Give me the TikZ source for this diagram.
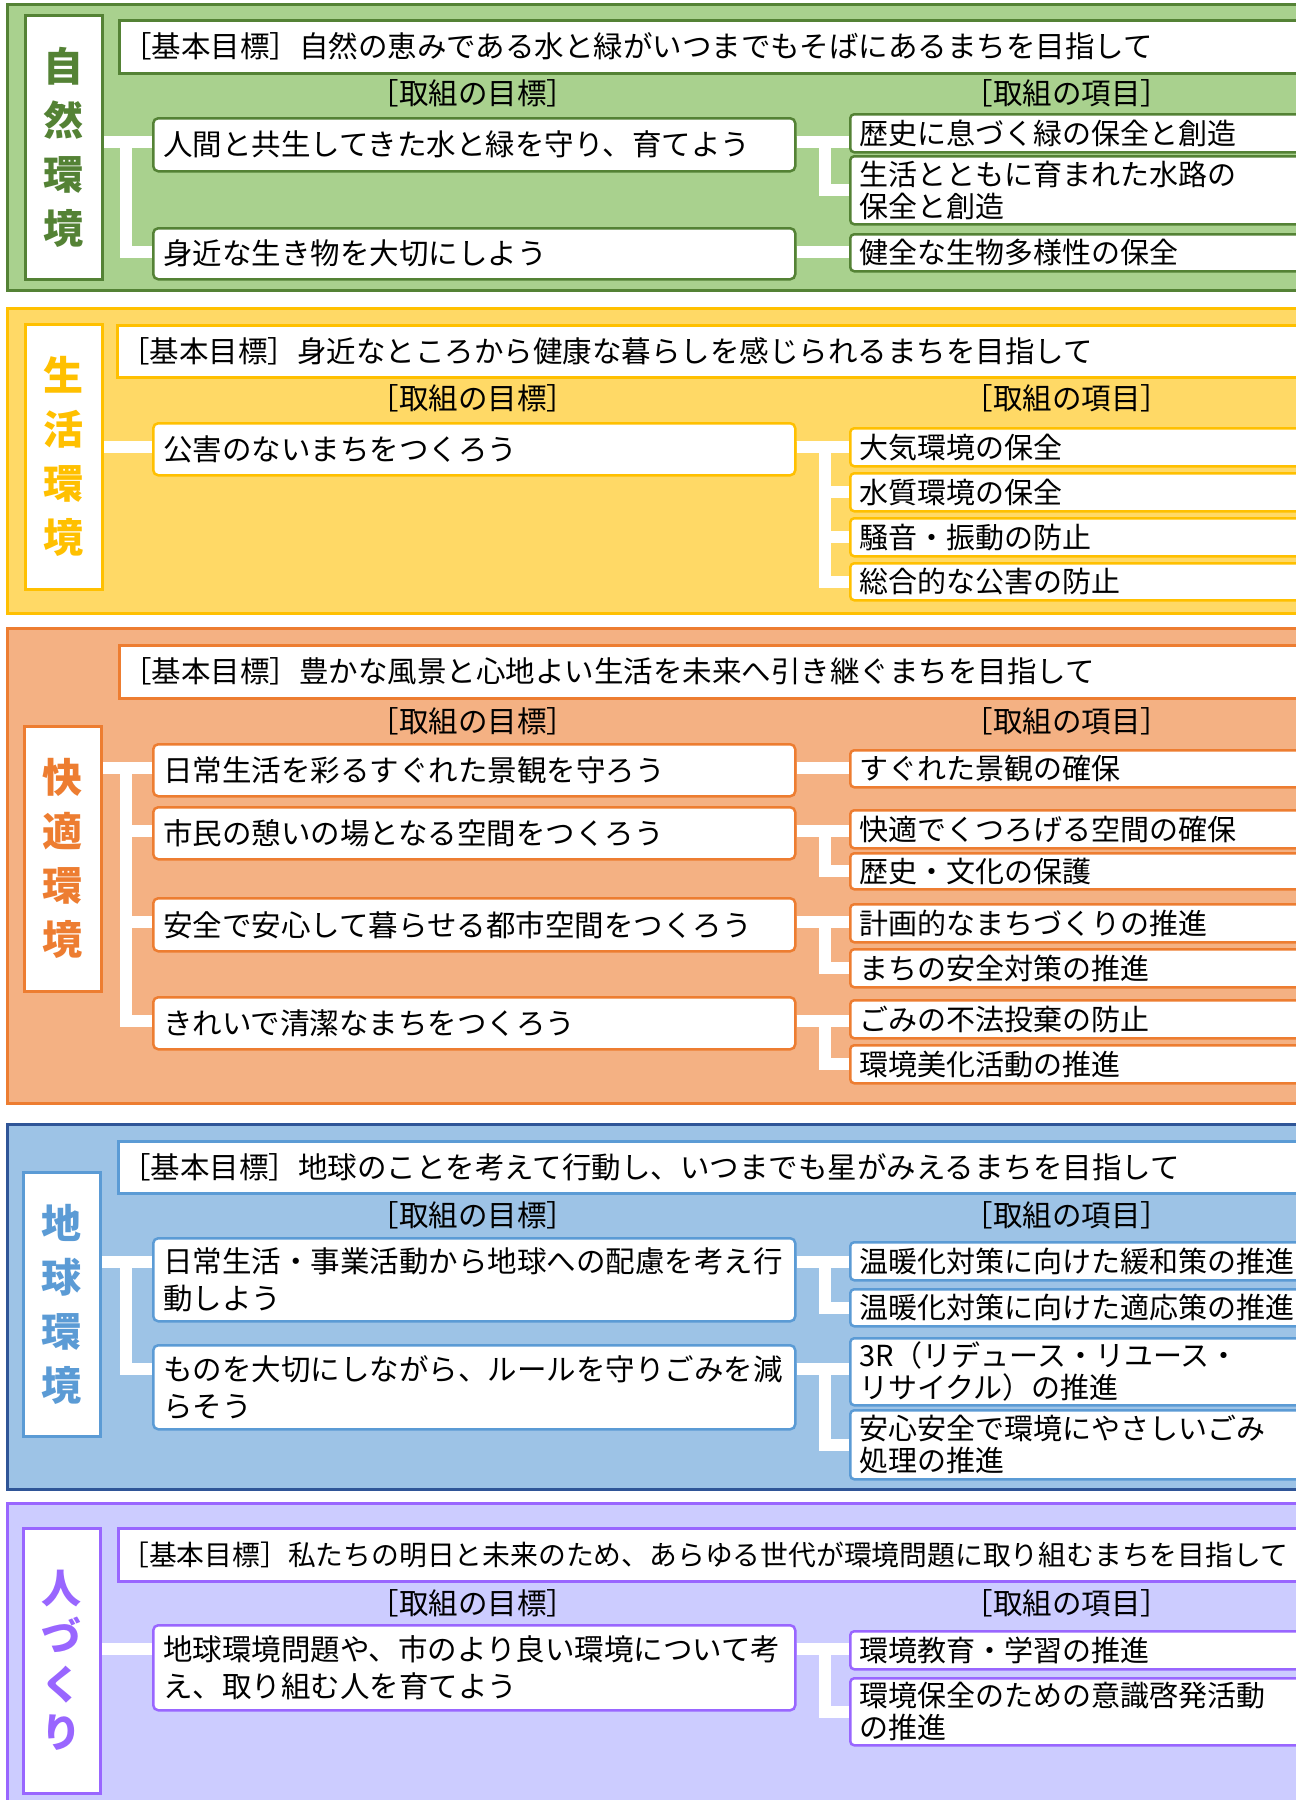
\documentclass[tikz,border=0pt]{standalone}
\usepackage{fontspec}
\setmainfont{Noto Sans CJK JP}
\IfFontExistsTF{Noto Sans CJK JP Black}{\newfontfamily\heavyfont{Noto Sans CJK JP Black}}{\newcommand{\heavyfont}{\bfseries}}
\usepackage{tikz}
\definecolor{natfill}{HTML}{A9D18E}
\definecolor{natline}{HTML}{548235}
\definecolor{lifefill}{HTML}{FFD966}
\definecolor{lifeline}{HTML}{FFC000}
\definecolor{amenfill}{HTML}{F4B183}
\definecolor{amenline}{HTML}{ED7D31}
\definecolor{globfill}{HTML}{9DC3E6}
\definecolor{globline}{HTML}{2F5597}
\definecolor{globbox}{HTML}{5B9BD5}
\definecolor{pplfill}{HTML}{CCCCFF}
\definecolor{pplline}{HTML}{9966FF}
\newcommand{\bodysize}{\fontsize{29.5}{37}\selectfont}
\newcommand{\itemsize}{\fontsize{29}{32}\selectfont}
\newcommand{\labfont}{\heavyfont\fontsize{40}{54}\selectfont}
\tikzstyle{sectionbox}=[line width=3pt]
\tikzstyle{labelbox}=[draw, fill=white, line width=2.5pt, anchor=north west, inner sep=0pt, minimum width=77pt, align=center]
\tikzstyle{basebox}=[draw, fill=white, line width=2.5pt, anchor=north west, inner xsep=3pt, inner ysep=0pt, text width=1186pt, minimum height=53pt, align=left, font=\bodysize]
\tikzstyle{goalbox}=[draw, fill=white, rounded corners=5pt, line width=2.5pt, anchor=north west, inner xsep=10pt, inner ysep=0pt, text width=622pt, align=left, font=\bodysize]
\tikzstyle{itembox}=[draw, fill=white, rounded corners=4pt, line width=2.5pt, anchor=north west, inner xsep=9pt, inner ysep=0pt, text width=443pt, align=left, font=\itemsize]
\tikzstyle{head}=[font=\fontsize{29.5}{29.5}\selectfont, inner sep=0pt]
\tikzstyle{link}=[draw=white, line width=12pt]
\begin{document}
\begin{tikzpicture}[x=1pt, y=-1pt]

  \useasboundingbox (0,0) rectangle (1296,1800);
  \clip (0,0) rectangle (1296,1800);
  \fill[white] (0,0) rectangle (1296,1800);

  % 自然環境
  \draw[sectionbox, draw=natline, fill=natfill] (7,4) rectangle (1310,290);
  \node[labelbox, draw=natline, text=natline, minimum height=264pt, font=\labfont] (lab1) at (24,14) {自\\然\\環\\境};
  \node[basebox, draw=natline] (base1) at (118,19) {［基本目標］自然の恵みである水と緑がいつまでもそばにあるまちを目指して};
  \node[head] (aim1) at (473,93) {［取組の目標］};
  \node[head] (act1) at (1067,93) {［取組の項目］};
  \foreach \y/\h/\name/\txt in {117/53/g11/{人間と共生してきた水と緑を守り、育てよう}, 227/51/g12/{身近な生き物を大切にしよう}}
    \node[goalbox, draw=natline, minimum height=\h pt] (\name) at (152,\y) {\txt};
  \foreach \y/\h/\name/\txt in {113/38/i11/{歴史に息づく緑の保全と創造}, 155/68/i12/{生活とともに育まれた水路の\\保全と創造}, 233/37/i13/{健全な生物多様性の保全}}
    \node[itembox, draw=natline, minimum height=\h pt] (\name) at (849,\y) {\txt};

  % 生活環境
  \draw[sectionbox, draw=lifeline, fill=lifefill] (7,308) rectangle (1310,613);
  \node[labelbox, draw=lifeline, text=lifeline, minimum height=265pt, font=\labfont] (lab2) at (24,323) {生\\活\\環\\境};
  \node[basebox, draw=lifeline, minimum height=52pt] (base2) at (116,324) {［基本目標］身近なところから健康な暮らしを感じられるまちを目指して};
  \node[head] (aim2) at (473,398) {［取組の目標］};
  \node[head] (act2) at (1067,398) {［取組の項目］};
  \node[goalbox, draw=lifeline, minimum height=52pt] (g21) at (152,422) {公害のないまちをつくろう};
  \foreach \y/\h/\name/\txt in {427/38/i21/{大気環境の保全}, 472/38/i22/{水質環境の保全}, 517/38/i23/{騒音・振動の防止}, 562/37/i24/{総合的な公害の防止}}
    \node[itembox, draw=lifeline, minimum height=\h pt] (\name) at (849,\y) {\txt};

  % 快適環境
  \draw[sectionbox, draw=amenline, fill=amenfill] (7,628) rectangle (1310,1103);
  \node[labelbox, draw=amenline, text=amenline, minimum height=265pt, font=\labfont] (lab3) at (23,725) {快\\適\\環\\境};
  \node[basebox, draw=amenline] (base3) at (118,644) {［基本目標］豊かな風景と心地よい生活を未来へ引き継ぐまちを目指して};
  \node[head] (aim3) at (473,721) {［取組の目標］};
  \node[head] (act3) at (1067,721) {［取組の項目］};
  \foreach \y/\h/\name/\txt in {743/52/g31/{日常生活を彩るすぐれた景観を守ろう}, 806/52/g32/{市民の憩いの場となる空間をつくろう}, 897/53/g33/{安全で安心して暮らせる都市空間をつくろう}, 996/52/g34/{きれいで清潔なまちをつくろう}}
    \node[goalbox, draw=amenline, minimum height=\h pt] (\name) at (152,\y) {\txt};
  \foreach \y/\h/\name/\txt in {749/37/i31/{すぐれた景観の確保}, 809/38/i32/{快適でくつろげる空間の確保}, 852/36/i33/{歴史・文化の保護}, 903/38/i34/{計画的なまちづくりの推進}, 948/38/i35/{まちの安全対策の推進}, 999/38/i36/{ごみの不法投棄の防止}, 1044/38/i37/{環境美化活動の推進}}
    \node[itembox, draw=amenline, minimum height=\h pt] (\name) at (849,\y) {\txt};

  % 地球環境
  \draw[sectionbox, draw=globline, fill=globfill] (7,1124) rectangle (1310,1489);
  \node[labelbox, draw=globbox, text=globbox, minimum height=264pt, font=\labfont] (lab4) at (22,1171) {地\\球\\環\\境};
  \node[basebox, draw=globbox, minimum height=52pt] (base4) at (117,1140) {［基本目標］地球のことを考えて行動し、いつまでも星がみえるまちを目指して};
  \node[head] (aim4) at (473,1215) {［取組の目標］};
  \node[head] (act4) at (1067,1215) {［取組の項目］};
  \foreach \y/\h/\name/\txt in {1237/83/g41/{日常生活・事業活動から地球への配慮を考え行\\動しよう}, 1344/84/g42/{ものを大切にしながら、ルールを守りごみを減\\らそう}}
    \node[goalbox, draw=globbox, minimum height=\h pt] (\name) at (152,\y) {\txt};
  \foreach \y/\h/\name/\txt in {1241/38/i41/{温暖化対策に向けた緩和策の推進}, 1288/37/i42/{温暖化対策に向けた適応策の推進}, 1337/67/i43/{3R（リデュース・リユース・\\リサイクル）の推進}, 1409/69/i44/{安心安全で環境にやさしいごみ\\処理の推進}}
    \node[itembox, draw=globbox, minimum height=\h pt] (\name) at (849,\y) {\txt};

  % 人づくり
  \draw[sectionbox, draw=pplline, fill=pplfill] (7,1503) rectangle (1310,1810);
  \node[labelbox, draw=pplline, text=pplline, minimum height=265pt, font=\heavyfont\fontsize{40}{48}\selectfont] (lab5) at (22,1527) {人\\づ\\く\\り};
  \node[basebox, draw=pplline, font=\fontsize{27.8}{37}\selectfont] (base5) at (117,1527) {［基本目標］私たちの明日と未来のため、あらゆる世代が環境問題に取り組むまちを目指して};
  \node[head] (aim5) at (473,1603) {［取組の目標］};
  \node[head] (act5) at (1067,1603) {［取組の項目］};
  \node[goalbox, draw=pplline, minimum height=85pt] (g51) at (152,1624) {地球環境問題や、市のより良い環境について考\\え、取り組む人を育てよう};
  \foreach \y/\h/\name/\txt in {1630/38/i51/{環境教育・学習の推進}, 1677/67/i52/{環境保全のための意識啓発活動\\の推進}}
    \node[itembox, draw=pplline, minimum height=\h pt] (\name) at (849,\y) {\txt};

  % connectors
  \foreach \source/\dest in {lab1/g11, lab2/g21, lab3/g31, lab4/g41, lab5/g51}
    \draw[link] ([yshift=-25pt]\dest.north west) -- ([yshift=-25pt]\dest.north west -| \source.east);
  \foreach \source/\dest in {g11/g12, g31/g32, g31/g33, g31/g34, g41/g42}
    \draw[link] ([yshift=-25pt]\source.north west) -- ++(-26,0) |- ([yshift=-25pt]\dest.north west);
  \foreach \source/\dest in {g11/i11, g12/i13, g21/i21, g31/i31, g32/i32, g33/i34, g34/i36, g41/i41, g42/i43, g51/i51}
    \draw[link] ([yshift=-25pt]\source.north east) -- ([yshift=-25pt]\source.north east -| \dest.west);
  \foreach \source/\dest in {g11/i12, g21/i22, g21/i23, g21/i24, g32/i33, g33/i35, g34/i37, g41/i42, g42/i44, g51/i52}
    \draw[link] ([yshift=-25pt]\source.north east) -- ++(28,0) |- (\dest.west);

\end{tikzpicture}
\end{document}
